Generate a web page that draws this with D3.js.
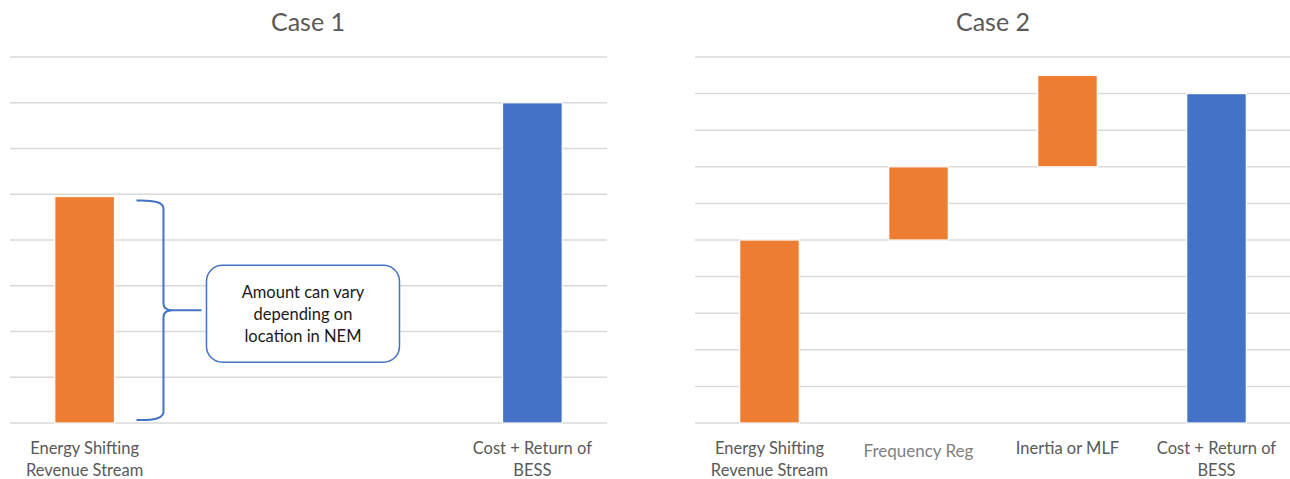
<!DOCTYPE html>
<html>
<head>
<meta charset="utf-8">
<script src="https://cdn.jsdelivr.net/npm/d3@7"></script>
<style>
  html, body { margin: 0; padding: 0; background: #fff; }
  svg { display: block; }
  text { font-family: Lato, "Open Sans", sans-serif; }
</style>
</head>
<body>
<svg id="chart" width="1290" height="479"></svg>
<script>
// ---- Data ----
const case1Categories = ["Energy Shifting|Revenue Stream", "", " ", "Cost + Return of|BESS"];
const case1Base = [0, null, null, 0];
const case1Values = [4.95, null, null, 7];
const case1Colors = ["#ED7D31", null, null, "#4472C4"];
const case1Ticks = [0, 1, 2, 3, 4, 5, 6, 7, 8];

const case2Categories = ["Energy Shifting|Revenue Stream", "Frequency Reg", "Inertia or MLF", "Cost + Return of|BESS"];
const case2Base = [0, 5, 7, 0];
const case2Values = [5, 7, 9.5, 9];
const case2Colors = ["#ED7D31", "#ED7D31", "#ED7D31", "#4472C4"];
const case2Ticks = [0, 1, 2, 3, 4, 5, 6, 7, 8, 9, 10];

const calloutLines = ["Amount can vary", "depending on", "location in NEM"];

const svg = d3.select("#chart");

function drawPanel(opts) {
  const g = svg.append("g");
  const x = d3.scaleBand().domain(opts.categories).range([opts.x0, opts.x1])
    .paddingInner(0.6).paddingOuter(0.3);
  const y = d3.scaleLinear().domain([0, opts.max]).range([423, 57]);

  // title
  g.append("text")
    .attr("x", opts.titleX).attr("y", 31)
    .attr("text-anchor", "middle")
    .attr("font-size", 25)
    .attr("fill", "#595959")
    .text(opts.title);

  // gridlines
  g.append("g").selectAll("line").data(opts.ticks).join("line")
    .attr("x1", opts.x0).attr("x2", opts.x1)
    .attr("y1", d => y(d)).attr("y2", d => y(d))
    .attr("stroke", "#d9d9d9").attr("stroke-width", 1.5);

  // bars
  const rows = opts.categories.map((c, i) => ({c, b: opts.base[i], v: opts.values[i], col: opts.colors[i]}))
    .filter(d => d.v != null);
  g.append("g").selectAll("rect").data(rows).join("rect")
    .attr("x", d => x(d.c))
    .attr("width", x.bandwidth())
    .attr("y", d => y(d.v))
    .attr("height", d => y(d.b) - y(d.v))
    .attr("fill", d => d.col)
    .attr("stroke", "#fff").attr("stroke-width", 1.2);

  // category labels
  const lab = g.append("g").selectAll("text").data(opts.categories.filter(c => c.trim() !== "")).join("text")
    .attr("x", d => x(d) + x.bandwidth() / 2)
    .attr("y", 454)
    .attr("text-anchor", "middle")
    .attr("font-size", 16.5)
    .attr("fill", "#595959");
  lab.each(function(d) {
    const parts = d.split("|");
    const t = d3.select(this);
    if (d === "Frequency Reg") {
      t.attr("y", 457).attr("font-size", 17).attr("fill", "#7f7f7f");
    }
    parts.forEach((p, i) => {
      t.append("tspan").attr("x", x(d) + x.bandwidth() / 2).attr("dy", i === 0 ? 0 : 22).text(p);
    });
  });
  return {x, y, g};
}

const p1 = drawPanel({
  title: "Case 1", titleX: 308, x0: 10, x1: 607, max: 8,
  categories: case1Categories, base: case1Base, values: case1Values, colors: case1Colors, ticks: case1Ticks
});
const p2 = drawPanel({
  title: "Case 2", titleX: 993, x0: 695, x1: 1291, max: 10,
  categories: case2Categories, base: case2Base, values: case2Values, colors: case2Colors, ticks: case2Ticks
});

// brace annotation next to first bar of Case 1
{
  const bx = p1.x(case1Categories[0]) + p1.x.bandwidth();
  const top = p1.y(case1Values[0]) + 4;
  const bot = p1.y(0) - 3;
  const mid = (top + bot) / 2;
  const xs = bx + 22, xv = bx + 49, xt = bx + 58, xe = bx + 87;
  const path = `M${xs},${top} Q${xv},${top - 1} ${xv},${top + 8} L${xv},${mid - 7} Q${xv},${mid} ${xt},${mid} L${xe},${mid} ` +
               `M${xt},${mid} Q${xv},${mid} ${xv},${mid + 7} L${xv},${bot - 8} Q${xv},${bot + 1} ${xs},${bot}`;
  p1.g.append("path").attr("d", path).attr("fill", "none")
    .attr("stroke", "#4472C4").attr("stroke-width", 2);

  const boxX = xe + 5, boxW = 193, boxH = 97, boxY = mid - 45;
  p1.g.append("rect").attr("x", boxX).attr("y", boxY).attr("width", boxW).attr("height", boxH)
    .attr("rx", 16).attr("fill", "#fff").attr("stroke", "#4472C4").attr("stroke-width", 1.5);
  p1.g.append("g").selectAll("text").data(calloutLines).join("text")
    .attr("x", boxX + boxW / 2)
    .attr("y", (d, i) => boxY + 33 + i * 22)
    .attr("text-anchor", "middle")
    .attr("font-size", 16.5)
    .attr("fill", "#1a1a1a")
    .text(d => d);
}
</script>
</body>
</html>
